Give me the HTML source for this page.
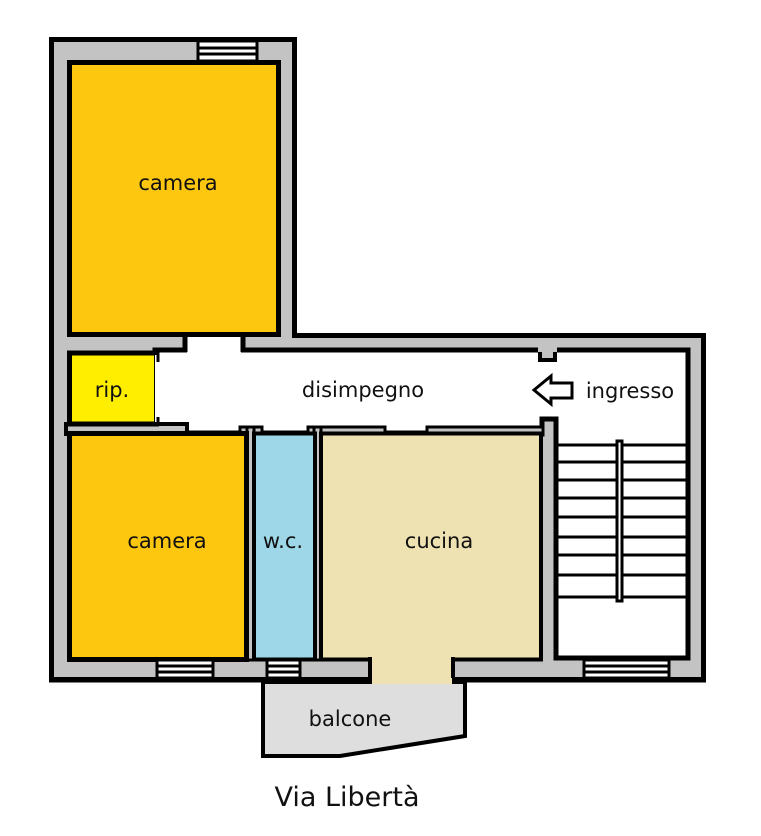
<!DOCTYPE html>
<html><head><meta charset="utf-8"><style>
html,body{margin:0;padding:0;background:#fff;}
svg{display:block;}
text{font-family:"DejaVu Sans","Liberation Sans",sans-serif;fill:#111;}
</style></head><body>
<svg width="761" height="836" viewBox="0 0 761 836" xmlns="http://www.w3.org/2000/svg">
<polygon points="49,37 297,37 297,333 706,333 706,682 49,682" fill="#000"/>
<polygon points="54,42 292,42 292,338 701,338 701,677 54,677" fill="#c3c3c3"/>

<polygon points="155,350 688,350 688,658 556,658 556,419 542,419 542,433 155,433" fill="#fff" stroke="#000" stroke-width="5"/>
<rect x="540" y="348" width="15" height="12" fill="#c3c3c3" stroke="#000" stroke-width="4"/>
<rect x="538" y="338" width="19" height="14" fill="#c3c3c3"/>
<rect x="187" y="330" width="54" height="25" fill="#fff"/>
<line x1="185" y1="335" x2="185" y2="352" stroke="#000" stroke-width="5"/>
<line x1="243" y1="335" x2="243" y2="352" stroke="#000" stroke-width="5"/>

<rect x="66" y="424" width="121" height="10" fill="#c3c3c3" stroke="#000" stroke-width="4"/>
<rect x="240" y="427" width="22" height="8" fill="#c3c3c3" stroke="#000" stroke-width="3"/>
<rect x="247" y="427" width="7" height="233" fill="#c3c3c3" stroke="#000" stroke-width="3"/>
<rect x="308" y="427" width="77" height="8" fill="#c3c3c3" stroke="#000" stroke-width="3"/>
<rect x="314" y="427" width="7" height="233" fill="#c3c3c3" stroke="#000" stroke-width="3"/>
<rect x="427" y="427" width="116" height="8" fill="#c3c3c3" stroke="#000" stroke-width="3"/>

<rect x="69.5" y="62.5" width="209" height="272" fill="#fdc70f" stroke="#000" stroke-width="5"/>
<rect x="69.5" y="353" width="87" height="71" fill="#ffee00" stroke="#000" stroke-width="5"/>
<rect x="155" y="355" width="6" height="67" fill="#fff"/>
<line x1="158" y1="352" x2="158" y2="362" stroke="#000" stroke-width="3"/>
<line x1="158" y1="417" x2="158" y2="426" stroke="#000" stroke-width="3"/>
<rect x="69.5" y="433.5" width="177" height="226" fill="#fdc70f" stroke="#000" stroke-width="5"/>
<rect x="254" y="433.5" width="61" height="226" fill="#9ed8e8" stroke="#000" stroke-width="4"/>
<rect x="321" y="433.5" width="220" height="226" fill="#efe2b2" stroke="#000" stroke-width="4"/>
<rect x="372" y="655" width="80" height="27" fill="#efe2b2"/>
<line x1="370" y1="657" x2="370" y2="682" stroke="#000" stroke-width="4"/>
<line x1="453" y1="657" x2="453" y2="682" stroke="#000" stroke-width="4"/>

<polygon points="263,682 465,682 465,736 340,756 263,756" fill="#dedede" stroke="#000" stroke-width="4"/>
<rect x="372" y="678" width="80" height="6" fill="#efe2b2"/>
<line x1="49" y1="680" x2="372" y2="680" stroke="#000" stroke-width="5"/>
<line x1="452" y1="680" x2="706" y2="680" stroke="#000" stroke-width="5"/>

<g fill="#fff" stroke="#000" stroke-width="3">
<rect x="198" y="41" width="59" height="20"/>
<rect x="157" y="660" width="56" height="18"/>
<rect x="267" y="660" width="33" height="18"/>
<rect x="584" y="660" width="85" height="18"/>
</g>
<g stroke="#000" stroke-width="3">
<line x1="198" y1="48" x2="257" y2="48"/><line x1="198" y1="54" x2="257" y2="54"/>
<line x1="157" y1="666" x2="213" y2="666"/><line x1="157" y1="672" x2="213" y2="672"/>
<line x1="267" y1="666" x2="300" y2="666"/><line x1="267" y1="672" x2="300" y2="672"/>
<line x1="584" y1="666" x2="669" y2="666"/><line x1="584" y1="672" x2="669" y2="672"/>
</g>

<g stroke="#000" stroke-width="3">
<line x1="557" y1="445" x2="687" y2="445"/>
<line x1="557" y1="462" x2="687" y2="462"/>
<line x1="557" y1="480" x2="687" y2="480"/>
<line x1="557" y1="498" x2="687" y2="498"/>
<line x1="557" y1="517" x2="687" y2="517"/>
<line x1="557" y1="537" x2="687" y2="537"/>
<line x1="557" y1="555" x2="687" y2="555"/>
<line x1="557" y1="575" x2="687" y2="575"/>
<line x1="557" y1="597" x2="687" y2="597"/>
</g>
<rect x="617" y="441" width="5" height="160" fill="#fff" stroke="#000" stroke-width="3"/>

<polygon points="534,390 551,376 551,383 572,383 572,398 551,398 551,404" fill="#fff" stroke="#000" stroke-width="3"/>

<g font-size="21" text-anchor="middle">
<text x="178" y="190">camera</text>
<text x="112" y="397">rip.</text>
<text x="363" y="397">disimpegno</text>
<text x="630" y="398">ingresso</text>
<text x="167" y="548">camera</text>
<text x="283" y="548">w.c.</text>
<text x="439" y="548">cucina</text>
<text x="350" y="726">balcone</text>
<text x="347" y="806" font-size="27">Via Libertà</text>
</g>
</svg>
</body></html>
